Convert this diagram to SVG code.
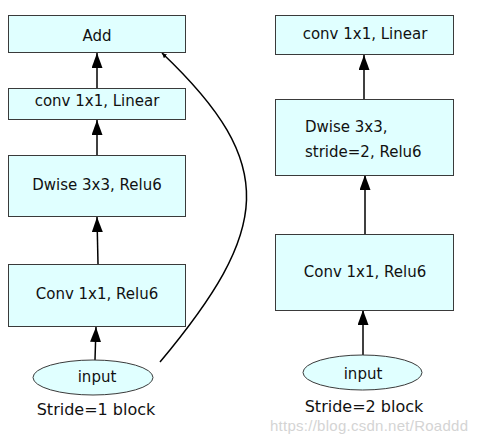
<svg xmlns="http://www.w3.org/2000/svg" width="478" height="436" viewBox="0 0 478 436">
<style>
.box{fill:#e0ffff;stroke:#3a3a3a;stroke-width:1}
.t{font-family:"DejaVu Sans",sans-serif;font-size:15px;fill:#111}
.lab{font-family:"DejaVu Sans",sans-serif;font-size:16px;fill:#111;text-anchor:middle}
.c{text-anchor:middle}
.edge{stroke:#000;stroke-width:1.5;fill:none}
.wm{font-family:"Liberation Sans",sans-serif;font-size:15px;fill:#d4d4d4}
</style>
<defs>
<marker id="ah" markerUnits="userSpaceOnUse" markerWidth="16" markerHeight="12" refX="15" refY="5.5" orient="auto">
<path d="M0,0 L15,5.5 L0,11 z" fill="#000"/>
</marker>
<marker id="ahs" markerUnits="userSpaceOnUse" markerWidth="6" markerHeight="6" refX="5" refY="2.5" orient="auto">
<path d="M0,0 L5,2.5 L0,5 z" fill="#000"/>
</marker>
</defs>
<g id="connectors">
<line class="edge" x1="97" y1="88" x2="97" y2="53" marker-end="url(#ah)"/>
<line class="edge" x1="97" y1="155" x2="97" y2="120" marker-end="url(#ah)"/>
<line class="edge" x1="98" y1="264" x2="97" y2="217" marker-end="url(#ah)"/>
<line class="edge" x1="95" y1="360" x2="96" y2="327" marker-end="url(#ah)"/>
<path class="edge" d="M160,362 C270,230 280,165 162,53" stroke-width="1.2" marker-end="url(#ahs)"/>
<line class="edge" x1="364" y1="99" x2="364" y2="55" marker-end="url(#ah)"/>
<line class="edge" x1="365" y1="234" x2="365" y2="175" marker-end="url(#ah)"/>
<line class="edge" x1="363" y1="355" x2="363" y2="310" marker-end="url(#ah)"/>
</g>
<g id="add">
<rect class="box" x="8.5" y="15.5" width="177" height="37"/>
<text class="t c" x="97" y="40.5">Add</text>
</g>
<g id="conv_linear_1">
<rect class="box" x="8.5" y="88.5" width="177" height="31"/>
<text class="t c" x="97" y="106">conv 1x1, Linear</text>
</g>
<g id="dwise_1">
<rect class="box" x="8.5" y="155.5" width="177" height="61"/>
<text class="t c" x="97" y="190">Dwise 3x3, Relu6</text>
</g>
<g id="conv_relu_1">
<rect class="box" x="8.5" y="264.5" width="177" height="62"/>
<text class="t c" x="97" y="299">Conv 1x1, Relu6</text>
</g>
<g id="input_1">
<ellipse class="box" cx="93" cy="377.5" rx="60" ry="17.5"/>
<text class="t c" x="97" y="382">input</text>
</g>
<g id="label_1">
<text class="lab" x="96" y="415">Stride=1 block</text>
</g>
<g id="conv_linear_2">
<rect class="box" x="275.5" y="15.5" width="178" height="39"/>
<text class="t c" x="365" y="38.5">conv 1x1, Linear</text>
</g>
<g id="dwise_2">
<rect class="box" x="275.5" y="99.5" width="178" height="76"/>
<text class="t" x="305" y="132">Dwise 3x3,</text>
<text class="t" x="305" y="157">stride=2, Relu6</text>
</g>
<g id="conv_relu_2">
<rect class="box" x="275.5" y="234.5" width="178" height="76"/>
<text class="t c" x="365" y="277">Conv 1x1, Relu6</text>
</g>
<g id="input_2">
<ellipse class="box" cx="362.5" cy="372.5" rx="59.5" ry="17.5"/>
<text class="t c" x="363" y="379">input</text>
</g>
<g id="label_2">
<text class="lab" x="364" y="412">Stride=2 block</text>
</g>
<text class="wm" x="270" y="431" textLength="198">https://blog.csdn.net/Roaddd</text>
</svg>
